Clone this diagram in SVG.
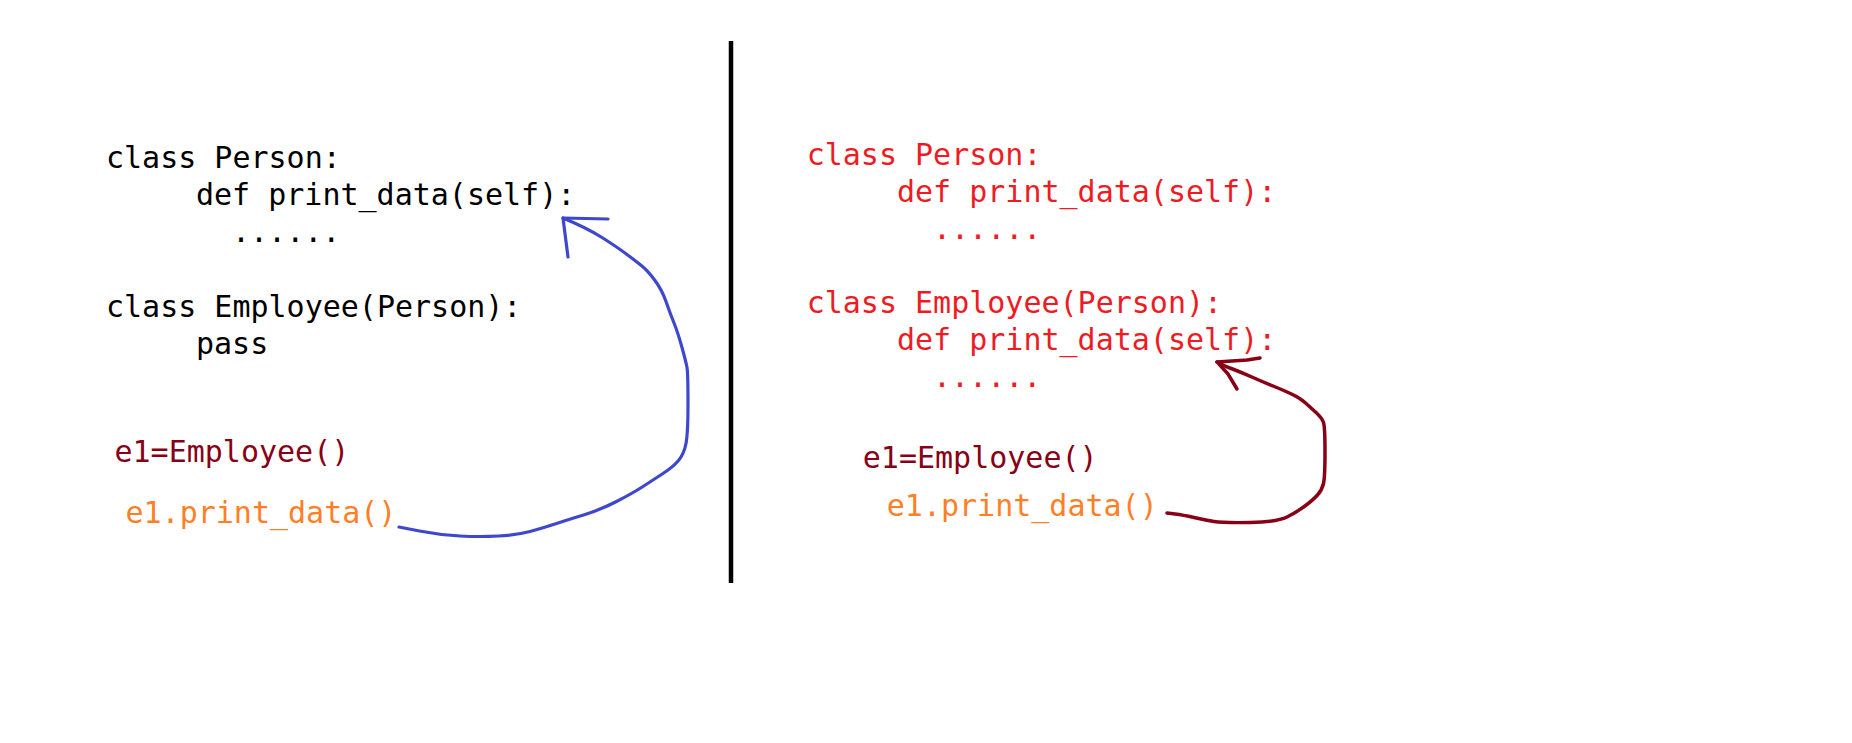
<svg xmlns="http://www.w3.org/2000/svg" width="1852" height="743" viewBox="0 0 1852 743">
  <style>
    .code { font-family: "DejaVu Sans Mono", "Liberation Mono", monospace; font-size: 30px; }
    .black { fill: #000000; }
    .red { fill: #ED1C24; }
    .maroon { fill: #880015; }
    .orange { fill: #FF7F27; }
    .pen { fill: none; stroke-width: 3.2; stroke-linecap: round; stroke-linejoin: round; }
    .blue { stroke: #3F48CC; }
    .darkred { stroke: #880015; stroke-width: 3.5; }
  </style>
  <rect x="0" y="0" width="1852" height="743" fill="#FFFFFF"/>

  <g id="divider">
    <line x1="731" y1="41" x2="731" y2="583" stroke="#000000" stroke-width="4.5"/>
  </g>

  <g id="left-classes" class="code black">
    <text x="106" y="167.5">class Person:</text>
    <text x="196" y="205">def print_data(self):</text>
    <text x="232" y="242">......</text>
    <text x="106" y="316.5">class Employee(Person):</text>
    <text x="196" y="353.5">pass</text>
  </g>

  <g id="left-calls" class="code">
    <text class="maroon" x="114.5" y="462">e1=Employee()</text>
    <text class="orange" x="125.5" y="523">e1.print_data()</text>
  </g>

  <g id="right-classes" class="code red">
    <text x="806.7" y="165">class Person:</text>
    <text x="897" y="202">def print_data(self):</text>
    <text x="933" y="239.3">......</text>
    <text x="806.7" y="313.3">class Employee(Person):</text>
    <text x="897" y="350">def print_data(self):</text>
    <text x="933" y="386.7">......</text>
  </g>

  <g id="right-calls" class="code">
    <text class="maroon" x="862.8" y="468">e1=Employee()</text>
    <text class="orange" x="886.8" y="516">e1.print_data()</text>
  </g>

  <g id="connectors">
    <path class="pen blue" d="M 399,527 L 419.5,531 Q 440,535 460,536 Q 480,537 498.5,536 Q 517,535 530,531.5 Q 543,528 555,524 Q 567,520 583.5,515 Q 600,510 616.5,501.5 Q 633,493 643,486.5 Q 653,480 663,473.5 Q 673,467 678.5,460.5 Q 684,454 686,443.5 Q 688,433 688,403 Q 688,373 687,367.5 Q 686,362 682,347.5 Q 678,333 674,323 Q 670,313 666,301.5 Q 662,290 655,280.5 Q 648,271 642.5,266.5 Q 637,262 627,254.5 Q 617,247 602,237.5 Q 587,228 563,218"/>
    <path class="pen blue" d="M 608,219 L 563,218 L 568,257"/>
    <path class="pen darkred" d="M 1167,513 L 1175,514 Q 1183,515 1194,517.5 Q 1205,520 1214,521.5 Q 1223,523 1250,522.5 Q 1277,522 1287,517 Q 1297,512 1305,506 Q 1313,500 1317.5,495 Q 1322,490 1323.5,483.5 Q 1325,477 1325,452 Q 1325,427 1323.5,422.5 Q 1322,418 1316,412.5 Q 1310,407 1305,402.5 Q 1300,398 1291.5,394 Q 1283,390 1273,386 Q 1263,382 1253,377.5 Q 1243,373 1232.5,369 Q 1222,365 1217,362"/>
    <path class="pen darkred" d="M 1260,358 L 1247,360 L 1217,362"/>
    <path class="pen darkred" d="M 1219,364 L 1228,374 L 1237,389" stroke-width="4.8"/>
  </g>
</svg>
